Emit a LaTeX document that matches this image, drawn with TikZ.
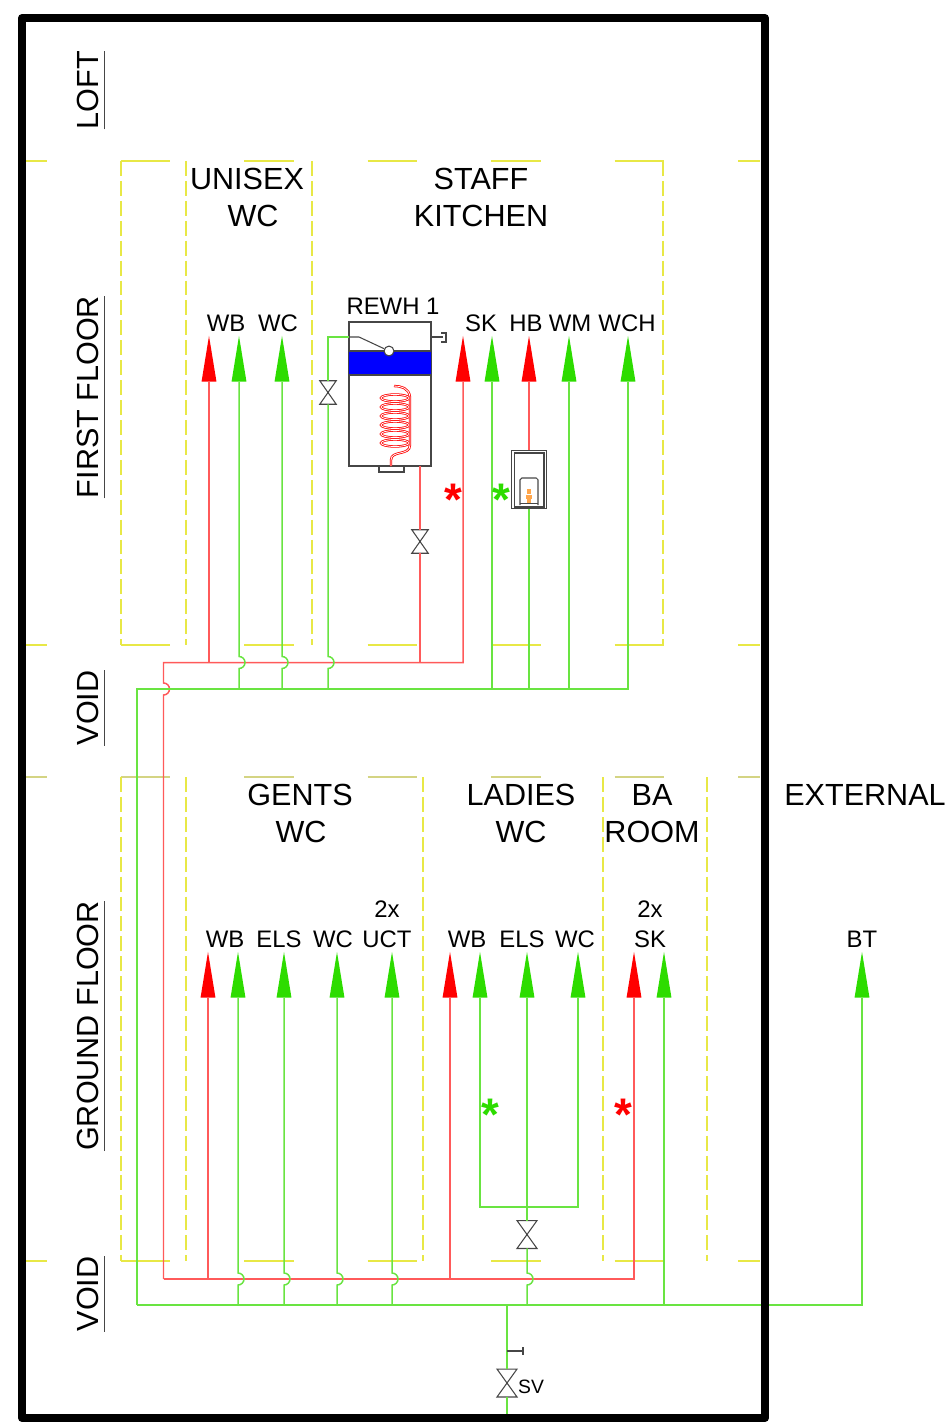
\documentclass[tikz,border=0pt]{standalone}
\usepackage{fontspec}
\setmainfont{Liberation Sans}
\usetikzlibrary{calc,positioning,shapes.geometric}
\definecolor{pipered}{RGB}{255,90,90}
\definecolor{pipegreen}{RGB}{105,228,65}
\definecolor{tipred}{RGB}{255,0,0}
\definecolor{tipgreen}{RGB}{45,220,0}
\definecolor{gridyellow}{RGB}{232,232,70}
\definecolor{kit}{RGB}{70,70,70}

\begin{document}
\begin{tikzpicture}
    [x=0.02cm, y=-0.02cm,
    room/.style={anchor=base, inner sep=0pt, font=\fontsize{17.4}{21}\selectfont},
    fixture/.style={anchor=base, inner sep=0pt, font=\fontsize{13.6}{16}\selectfont},
    level/.style={anchor=base, rotate=90, inner xsep=0pt, inner ysep=3.6pt, text depth=0pt, font=\fontsize{17.4}{21}\selectfont},
    hottip/.style={isosceles triangle, isosceles triangle stretches, shape border rotate=90, anchor=south, inner sep=0pt, minimum width=8.5pt, minimum height=26pt, fill=tipred},
    coldtip/.style={hottip, fill=tipgreen},
    hotpipe/.style={pipered, line width=0.85pt},
    coldpipe/.style={pipegreen, line width=0.85pt},
    yellowlevel/.style={gridyellow, line width=0.65pt, dash pattern=on 28.35pt off 41.95pt, dash phase=14.17pt},
    yellowwall/.style={gridyellow, line width=0.75pt, dash pattern=on 8.5pt off 2.84pt},
    valve/.style={inner sep=0pt, minimum width=9pt, minimum height=13pt},
    bigvalve/.style={inner sep=0pt, minimum width=11pt, minimum height=15.5pt},
    kitline/.style={kit, line width=0.6pt},
    star/.style={font=\fontsize{26}{26}\bfseries\selectfont, inner sep=0pt}]
  \useasboundingbox (0,0) rectangle (949,1422);

  % levels and walls
  \draw [yellowlevel] (22,161) -- (760,161);
  \draw [yellowlevel] (22,645) -- (760,645);
  \draw [yellowlevel, gridyellow!50!lightgray] (22,777) -- (760,777);
  \draw [yellowlevel] (22,1261) -- (760,1261);
  \draw [yellowwall] (121,161) -- (121,645);
  \draw [yellowwall] (186,161) -- (186,645);
  \draw [yellowwall] (312,161) -- (312,645);
  \draw [yellowwall] (663,161) -- (663,645);
  \draw [yellowwall] (121,777) -- (121,1261);
  \draw [yellowwall] (186,777) -- (186,1261);
  \draw [yellowwall] (423,777) -- (423,1261);
  \draw [yellowwall] (603,777) -- (603,1261);
  \draw [yellowwall] (707,777) -- (707,1261);

  \node [level] (loft) at (98,90) {LOFT};
  \node [level] (first) at (98,397) {FIRST FLOOR};
  \node [level] (void1) at (98,708) {VOID};
  \node [level] (ground) at (98,1026) {GROUND FLOOR};
  \node [level] (void2) at (98,1294) {VOID};
  \draw [kitline] (loft.south west) -- (loft.south east);
  \draw [kitline] (first.south west) -- (first.south east);
  \draw [kitline] (void1.south west) -- (void1.south east);
  \draw [kitline] (ground.south west) -- (ground.south east);
  \draw [kitline] (void2.south west) -- (void2.south east);

  \node [room] (unisex) at (247,190) {UNISEX};
  \node [room] (unisexwc) at (253,227) {WC};
  \node [room] (staff) at (481,190) {STAFF};
  \node [room] (kitchen) at (481,227) {KITCHEN};
  \node [room] (gents) at (300,805) {GENTS};
  \node [room] (gentswc) at (301,842) {WC};
  \node [room] (ladies) at (521,805) {LADIES};
  \node [room] (ladieswc) at (521,842) {WC};
  \node [room] (ba) at (652,805) {BA};
  \node [room] (baroom) at (652,842) {ROOM};
  \node [room] (external) at (865,805) {EXTERNAL};

  % first floor outlets
  \node [hottip] (fwbh) at (209,382) {};
  \node [coldtip] (fwbc) at (239,382) {};
  \node [coldtip] (fwc) at (282,382) {};
  \node [hottip] (fskh) at (463,382) {};
  \node [coldtip] (fskc) at (492,382) {};
  \node [hottip] (fhb) at (529,382) {};
  \node [coldtip] (fwm) at (569,382) {};
  \node [coldtip] (fwch) at (628,382) {};
  \node [fixture] (fwbl) at (226,332) {WB};
  \node [fixture] (fwcl) at (278,332) {WC};
  \node [fixture] (fskl) at (481,332) {SK};
  \node [fixture] (fhbl) at (526,332) {HB};
  \node [fixture] (fwml) at (570,332) {WM};
  \node [fixture] (fwchl) at (627,332) {WCH};

  % ground floor outlets
  \node [hottip] (gwbh) at (208,998) {};
  \node [coldtip] (gwbc) at (238,998) {};
  \node [coldtip] (gels) at (284,998) {};
  \node [coldtip] (gwc) at (337,998) {};
  \node [coldtip] (guct) at (392,998) {};
  \node [hottip] (lwbh) at (450,998) {};
  \node [coldtip] (lwbc) at (480,998) {};
  \node [coldtip] (lels) at (527,998) {};
  \node [coldtip] (lwc) at (578,998) {};
  \node [hottip] (bskh) at (634,998) {};
  \node [coldtip] (bskc) at (664,998) {};
  \node [coldtip] (bt) at (862,998) {};
  \node [fixture] (gwbl) at (225,947) {WB};
  \node [fixture] (gelsl) at (279,947) {ELS};
  \node [fixture] (gwcl) at (333,947) {WC};
  \node [fixture] (guctl) at (387,947) {UCT};
  \node [fixture] (gtwo) at (387,917) {2x};
  \node [fixture] (lwbl) at (467,947) {WB};
  \node [fixture] (lelsl) at (522,947) {ELS};
  \node [fixture] (lwcl) at (575,947) {WC};
  \node [fixture] (bskl) at (650,947) {SK};
  \node [fixture] (btwo) at (650,917) {2x};
  \node [fixture] (btl) at (862,947) {BT};

  % heater
  \node [draw=kit, line width=0.6pt, inner sep=0pt, minimum width=46.5pt, minimum height=81.6pt] (rewh) at (390,394) {};
  \fill [blue] (349,351) rectangle (431,375);
  \draw [kitline] (rewh.north west) rectangle (rewh.south east);
  \draw [kitline] (349,351) -- (431,351);
  \draw [kitline] (349,375) -- (431,375);
  \node [fixture] (rewhl) at (393,315) {REWH 1};
  \node [circle, draw=kit, fill=white, line width=0.6pt, inner sep=0pt, minimum size=5.6pt] (stat) at (389,351) {};
  \coordinate (rewhin) at (349,337);
  \draw [kitline] (rewhin) -- (359,337) -- (stat);
  \draw [kitline] (431,337) -- (443,337);
  \draw [kitline] (441,333) -- (446,333) -- (446,342) -- (441,342);
  \draw [kitline] (379,466) rectangle (404,472);
  \draw [tipred, line width=0.45pt, double=white, double distance=0.45pt] (410,397) .. controls (409,388) and (401,386) .. (394,386);
  \draw [tipred, line width=0.45pt, double=white, double distance=0.45pt] (395,398) ellipse (14 and 3.5);
  \draw [tipred, line width=0.45pt, double=white, double distance=0.45pt] (395,407) ellipse (14 and 3.5);
  \draw [tipred, line width=0.45pt, double=white, double distance=0.45pt] (395,416) ellipse (14 and 3.5);
  \draw [tipred, line width=0.45pt, double=white, double distance=0.45pt] (395,425) ellipse (14 and 3.5);
  \draw [tipred, line width=0.45pt, double=white, double distance=0.45pt] (395,434) ellipse (14 and 3.5);
  \draw [tipred, line width=0.45pt, double=white, double distance=0.45pt] (395,443) ellipse (14 and 3.5);
  \draw [tipred, line width=0.45pt, double=white, double distance=0.45pt] (410,397) -- (410,445) .. controls (410,456) and (391,450) .. (391,460) -- (391,466);

  % wash basin heater
  \node [draw=kit, line width=0.6pt, inner sep=0pt, minimum width=19.7pt, minimum height=33.4pt] (geyser) at (529,479.5) {};
  \draw [kitline] (514.5,453) rectangle (544,507);
  \draw [kitline, rounded corners=1pt] (520,505) -- (520,478) -- (538,478) -- (538,505);
  \draw [kitline] (520,503.5) -- (538,503.5);
  \fill [orange!70] (527,489) rectangle (531,494);
  \fill [orange!70] (526,495) rectangle (532,499);
  \fill [orange!70] (527,499) rectangle (531,503);

  % rails
  \coordinate (hotf) at (163.5,662.5);
  \coordinate (coldf) at (137,689);
  \coordinate (hotg) at (163.5,1279);
  \coordinate (coldg) at (137,1305);

  % valves
  \node [valve] (vheatc) at (328,392.5) {};
  \node [valve] (vheath) at (420,541.5) {};
  \node [bigvalve] (vladies) at (527,1234.5) {};
  \node [bigvalve] (vsv) at (507,1383) {};
  \draw [kitline] (vheatc.north west) -- (vheatc.north east) -- (vheatc.south west) -- (vheatc.south east) -- cycle;
  \draw [kitline] (vheath.north west) -- (vheath.north east) -- (vheath.south west) -- (vheath.south east) -- cycle;
  \draw [kitline] (vladies.north west) -- (vladies.north east) -- (vladies.south west) -- (vladies.south east) -- cycle;
  \draw [kitline] (vsv.north west) -- (vsv.north east) -- (vsv.south west) -- (vsv.south east) -- cycle;
  \node [fixture, font=\fontsize{11}{13}\selectfont] (svl) at (531,1393) {SV};

  % hot pipes
  \draw [hotpipe] (hotg) -- ($(hotg |- coldf)+(0,6)$) arc (90:-90:6) -- (hotf) -| (fskh.south);
  \draw [hotpipe] (hotg) -| (bskh.south);
  \draw [hotpipe] (fwbh.south) -- (fwbh.south |- hotf);
  \draw [hotpipe] (rewh.south -| vheath) -- (vheath.north);
  \draw [hotpipe] (vheath.south) -- (vheath.south |- hotf);
  \draw [hotpipe] (fhb.south) -- (geyser.north);
  \draw [hotpipe] (gwbh.south) -- (gwbh.south |- hotg);
  \draw [hotpipe] (lwbh.south) -- (lwbh.south |- hotg);

  % cold pipes
  \draw [coldpipe] (coldg) -- (coldf) -| (fwch.south);
  \draw [coldpipe] (coldg) -| (bt.south);
  \draw [coldpipe] (fwbc.south) -- ($(fwbc.south |- hotf)+(0,-6)$) arc (-90:90:6) -- (fwbc.south |- coldf);
  \draw [coldpipe] (fwc.south) -- ($(fwc.south |- hotf)+(0,-6)$) arc (-90:90:6) -- (fwc.south |- coldf);
  \draw [coldpipe] (rewhin) -| (vheatc.north);
  \draw [coldpipe] (vheatc.south) -- ($(vheatc.south |- hotf)+(0,-6)$) arc (-90:90:6) -- (vheatc.south |- coldf);
  \draw [coldpipe] (fskc.south) -- (fskc.south |- coldf);
  \draw [coldpipe] (geyser.south) -- (geyser.south |- coldf);
  \draw [coldpipe] (fwm.south) -- (fwm.south |- coldf);
  \draw [coldpipe] (gwbc.south) -- ($(gwbc.south |- hotg)+(0,-6)$) arc (-90:90:6) -- (gwbc.south |- coldg);
  \draw [coldpipe] (gels.south) -- ($(gels.south |- hotg)+(0,-6)$) arc (-90:90:6) -- (gels.south |- coldg);
  \draw [coldpipe] (gwc.south) -- ($(gwc.south |- hotg)+(0,-6)$) arc (-90:90:6) -- (gwc.south |- coldg);
  \draw [coldpipe] (guct.south) -- ($(guct.south |- hotg)+(0,-6)$) arc (-90:90:6) -- (guct.south |- coldg);
  \draw [coldpipe] (lels.south) -- (vladies.north);
  \draw [coldpipe] (lwbc.south) |- (lwc.south |- 0,1207) -- (lwc.south);
  \draw [coldpipe] (vladies.south) -- ($(vladies.south |- hotg)+(0,-6)$) arc (-90:90:6) -- (vladies.south |- coldg);
  \draw [coldpipe] (bskc.south) -- (bskc.south |- coldg);
  \draw [coldpipe] (vsv.north |- coldg) -- (vsv.north);
  \coordinate (mains) at (507,1420);
  \draw [coldpipe] (vsv.south) -- (mains);
  \draw [kitline] (507,1351) -- (523,1351);
  \draw [kitline] (523,1347) -- (523,1355);

  \node [star, text=tipred] (starf1) at (453,500) {*};
  \node [star, text=tipgreen] (starf2) at (501,500) {*};
  \node [star, text=tipgreen] (starg1) at (490,1115) {*};
  \node [star, text=tipred] (starg2) at (623,1115) {*};

  \draw [black, line width=4.5pt, line join=round] (22,18) rectangle (765,1418);
\end{tikzpicture}
\end{document}
